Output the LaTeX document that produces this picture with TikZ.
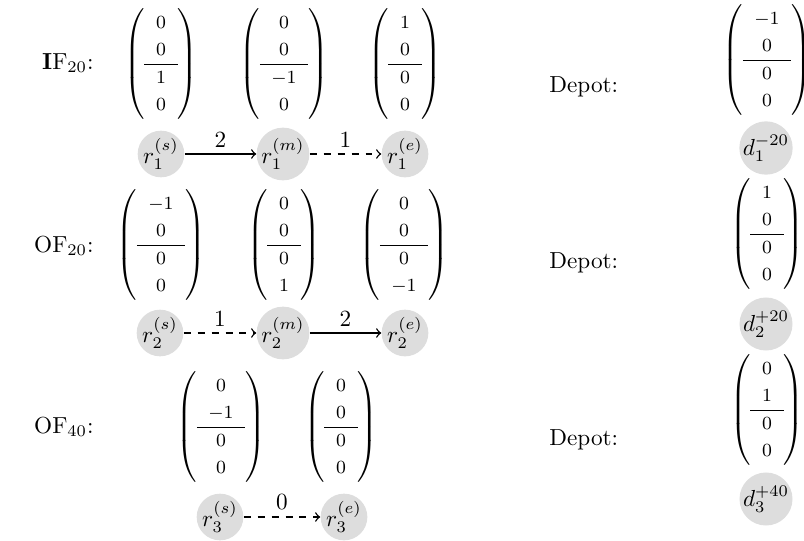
\documentclass[tikz,border=0pt]{standalone}
\usetikzlibrary{arrows}
\newcommand{\vecm}[4]{{\footnotesize\renewcommand{\arraystretch}{1.23}\setlength{\arraycolsep}{5pt}$\left(\begin{array}{c}#1\\#2\\\hline #3\\#4\end{array}\right)$}}
\begin{document}
\begin{tikzpicture}[x=0.431pt,y=-0.431pt,
  vnode/.style={circle,fill=gray!27,minimum size=19pt,inner sep=0pt},
  vecnode/.style={inner sep=0pt},
  rowlabel/.style={anchor=east,inner sep=0pt},
  depotlabel/.style={anchor=west,inner sep=0pt},
  arr/.style={semithick,->},
  darr/.style={semithick,->,dashed},
  wlabel/.style={midway,above,inner sep=2.5pt}]
\useasboundingbox (0,0) rectangle (804,541);

% Row 1
\node[rowlabel] (l1) at (94,63) {\textbf{I}F$_{20}$:};
\node[vecnode] (m11) at (161,64) {\vecm{0}{0}{1}{0}};
\node[vecnode] (m12) at (284,64) {\vecm{0}{0}{-1}{0}};
\node[vecnode] (m13) at (405,64) {\vecm{1}{0}{0}{0}};
\node[vnode] (r1s) at (161,154) {$r_1^{(s)}$};
\node[vnode] (r1m) at (283,154) {$r_1^{(m)}$};
\node[vnode] (r1e) at (405,154) {$r_1^{(e)}$};
\draw[arr] (r1s) -- (r1m) node[wlabel] {2};
\draw[darr] (r1m) -- (r1e) node[wlabel] {1};

% Row 2
\node[rowlabel] (l2) at (94,246) {OF$_{20}$:};
\node[vecnode] (m21) at (161,245) {\vecm{-1}{0}{0}{0}};
\node[vecnode] (m22) at (284,245) {\vecm{0}{0}{0}{1}};
\node[vecnode] (m23) at (404,245) {\vecm{0}{0}{0}{-1}};
\node[vnode] (r2s) at (160,333) {$r_2^{(s)}$};
\node[vnode] (r2m) at (283,333) {$r_2^{(m)}$};
\node[vnode] (r2e) at (405,333) {$r_2^{(e)}$};
\draw[darr] (r2s) -- (r2m) node[wlabel] {1};
\draw[arr] (r2m) -- (r2e) node[wlabel] {2};

% Row 3
\node[rowlabel] (l3) at (94,427) {OF$_{40}$:};
\node[vecnode] (m31) at (221,427) {\vecm{0}{-1}{0}{0}};
\node[vecnode] (m32) at (341,427) {\vecm{0}{0}{0}{0}};
\node[vnode] (r3s) at (220,517) {$r_3^{(s)}$};
\node[vnode] (r3e) at (344,517) {$r_3^{(e)}$};
\draw[darr] (r3s) -- (r3e) node[wlabel] {0};

% Depots
\node[depotlabel] (dl1) at (549,87) {Depot:};
\node[vecnode] (dm1) at (767,60) {\vecm{-1}{0}{0}{0}};
\node[vnode] (d1) at (766,148) {$d_1^{-20}$};
\node[depotlabel] (dl2) at (549,263) {Depot:};
\node[vecnode] (dm2) at (767,234) {\vecm{1}{0}{0}{0}};
\node[vnode] (d2) at (766,324) {$d_2^{+20}$};
\node[depotlabel] (dl3) at (549,440) {Depot:};
\node[vecnode] (dm3) at (767,410) {\vecm{0}{1}{0}{0}};
\node[vnode] (d3) at (766,499) {$d_3^{+40}$};
\end{tikzpicture}
\end{document}
